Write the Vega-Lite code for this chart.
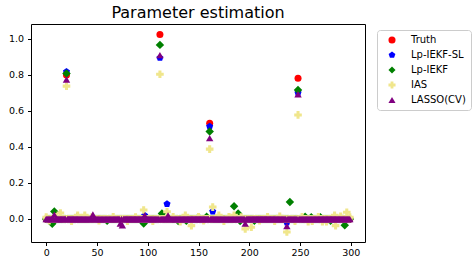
{
"$schema": "https://vega.github.io/schema/vega-lite/v6.json",
"autosize": {"type": "none"},
"width": 334, "height": 218,
"padding": {"left": 31, "top": 24, "right": 109, "bottom": 24},
"background": "white",
"config": {"font": "DejaVu Sans", "view": {"stroke": "#000", "strokeWidth": 1}},
"title": {"text": "Parameter estimation", "fontSize": 16, "fontWeight": "normal", "color": "#000", "anchor": "middle", "baseline": "alphabetic", "offset": 5, "dy": 15, "font": "DejaVu Sans"},
"data": {"values": [
{"i":0,"t":0,"s":0,"k":0,"a":0.01,"l":0},{"i":1,"t":0,"s":0,"k":0,"a":0,"l":0},{"i":2,"t":0,"s":0,"k":0,"a":0,"l":0},{"i":3,"t":0,"s":0,"k":0,"a":-0.01,"l":0},{"i":4,"t":0,"s":0,"k":0,"a":0,"l":0},
{"i":5,"t":0,"s":0,"k":0,"a":0,"l":0},{"i":6,"t":0,"s":0,"k":-0.026,"a":0,"l":0},{"i":7,"t":0,"s":0,"k":0,"a":0,"l":0},{"i":8,"t":0,"s":0,"k":0.042,"a":0,"l":0.024},{"i":9,"t":0,"s":0,"k":0,"a":0,"l":0},
{"i":10,"t":0,"s":0,"k":0,"a":0.012,"l":0},{"i":11,"t":0,"s":0,"k":0,"a":0,"l":0},{"i":12,"t":0,"s":0,"k":0,"a":0,"l":0},{"i":13,"t":0,"s":0,"k":0,"a":0,"l":0},{"i":14,"t":0,"s":0,"k":0,"a":0.033,"l":0},
{"i":15,"t":0,"s":0,"k":0,"a":0,"l":0},{"i":16,"t":0,"s":0,"k":0,"a":0,"l":0},{"i":17,"t":0,"s":0,"k":0,"a":0,"l":0},{"i":18,"t":0,"s":0,"k":0,"a":0,"l":0},{"i":19,"t":0,"s":0,"k":0,"a":0,"l":0},
{"i":20,"t":0.8,"s":0.818,"k":0.808,"a":0.738,"l":0.775},{"i":21,"t":0,"s":0,"k":0,"a":0,"l":0},{"i":22,"t":0,"s":0,"k":0,"a":0,"l":0},{"i":23,"t":0,"s":0,"k":0,"a":0,"l":0},{"i":24,"t":0,"s":0,"k":0,"a":0,"l":0},
{"i":25,"t":0,"s":0,"k":0,"a":-0.012,"l":0},{"i":26,"t":0,"s":0,"k":0,"a":0,"l":0},{"i":27,"t":0,"s":0,"k":0,"a":0,"l":0},{"i":28,"t":0,"s":0,"k":0,"a":0,"l":0},{"i":29,"t":0,"s":0,"k":0,"a":0,"l":0},
{"i":30,"t":0,"s":0,"k":0.008,"a":0,"l":0},{"i":31,"t":0,"s":0,"k":0,"a":0.02,"l":0},{"i":32,"t":0,"s":0,"k":0,"a":0,"l":0},{"i":33,"t":0,"s":0,"k":0,"a":0,"l":0},{"i":34,"t":0,"s":0,"k":0,"a":0,"l":0},
{"i":35,"t":0,"s":0,"k":0,"a":0,"l":0},{"i":36,"t":0,"s":0,"k":0,"a":0,"l":0},{"i":37,"t":0,"s":0,"k":0,"a":0,"l":0},{"i":38,"t":0,"s":0,"k":0,"a":0.02,"l":0},{"i":39,"t":0,"s":0,"k":0,"a":0,"l":0},
{"i":40,"t":0,"s":0,"k":0,"a":0,"l":0},{"i":41,"t":0,"s":0,"k":0,"a":0,"l":0},{"i":42,"t":0,"s":0,"k":0,"a":0,"l":0},{"i":43,"t":0,"s":0,"k":0,"a":0,"l":0},{"i":44,"t":0,"s":0,"k":0,"a":0,"l":0},
{"i":45,"t":0,"s":0,"k":0,"a":0.01,"l":0},{"i":46,"t":0,"s":0,"k":0,"a":0,"l":0.025},{"i":47,"t":0,"s":0,"k":0,"a":0,"l":0},{"i":48,"t":0,"s":0,"k":0,"a":0,"l":0},{"i":49,"t":0,"s":0,"k":0,"a":0,"l":0},
{"i":50,"t":0,"s":0,"k":0,"a":0,"l":0},{"i":51,"t":0,"s":0,"k":0,"a":0,"l":0},{"i":52,"t":0,"s":0,"k":0,"a":-0.01,"l":0},{"i":53,"t":0,"s":0,"k":0,"a":0,"l":0},{"i":54,"t":0,"s":0,"k":0,"a":0,"l":0},
{"i":55,"t":0,"s":0,"k":0,"a":0,"l":0},{"i":56,"t":0,"s":0,"k":0,"a":0,"l":0},{"i":57,"t":0,"s":0,"k":0,"a":0,"l":0},{"i":58,"t":0,"s":0,"k":0,"a":0,"l":0},{"i":59,"t":0,"s":0,"k":0,"a":0,"l":0},
{"i":60,"t":0,"s":0,"k":-0.01,"a":0,"l":0},{"i":61,"t":0,"s":0,"k":0,"a":0,"l":0},{"i":62,"t":0,"s":0,"k":0,"a":0,"l":0},{"i":63,"t":0,"s":0,"k":0,"a":0,"l":0},{"i":64,"t":0,"s":0,"k":0,"a":0,"l":0},
{"i":65,"t":0,"s":0,"k":0,"a":0,"l":0},{"i":66,"t":0,"s":0,"k":0,"a":0.012,"l":0},{"i":67,"t":0,"s":0,"k":0,"a":0,"l":0},{"i":68,"t":0,"s":0,"k":0,"a":0,"l":0},{"i":69,"t":0,"s":0,"k":0,"a":0,"l":0},
{"i":70,"t":0,"s":0,"k":0,"a":0,"l":0},{"i":71,"t":0,"s":0,"k":0,"a":0,"l":0},{"i":72,"t":0,"s":0,"k":0,"a":0,"l":0},{"i":73,"t":0,"s":0,"k":0,"a":0,"l":-0.025},{"i":74,"t":0,"s":0,"k":0,"a":0,"l":0},
{"i":75,"t":0,"s":0,"k":0,"a":0,"l":-0.035},{"i":76,"t":0,"s":0,"k":0,"a":0,"l":0},{"i":77,"t":0,"s":0,"k":0,"a":0,"l":0},{"i":78,"t":0,"s":0,"k":0,"a":0,"l":0},{"i":79,"t":0,"s":0,"k":0,"a":0,"l":0},
{"i":80,"t":0,"s":0,"k":0,"a":-0.012,"l":0},{"i":81,"t":0,"s":0,"k":0,"a":0,"l":0},{"i":82,"t":0,"s":0,"k":0,"a":0,"l":0},{"i":83,"t":0,"s":0,"k":0,"a":0,"l":0},{"i":84,"t":0,"s":0,"k":0,"a":0,"l":0},
{"i":85,"t":0,"s":0,"k":0,"a":0,"l":0},{"i":86,"t":0,"s":0,"k":0,"a":0,"l":0},{"i":87,"t":0,"s":0,"k":0,"a":0,"l":0},{"i":88,"t":0,"s":0,"k":0,"a":0.01,"l":0},{"i":89,"t":0,"s":0,"k":0,"a":0,"l":0},
{"i":90,"t":0,"s":0,"k":0,"a":0,"l":0},{"i":91,"t":0,"s":0,"k":0,"a":0,"l":0},{"i":92,"t":0,"s":0,"k":0,"a":0,"l":0},{"i":93,"t":0,"s":0,"k":0,"a":0,"l":0},{"i":94,"t":0,"s":0,"k":0,"a":0,"l":0},
{"i":95,"t":0,"s":0,"k":0,"a":0,"l":0},{"i":96,"t":0,"s":0,"k":-0.025,"a":0.05,"l":0},{"i":97,"t":0,"s":0.02,"k":0,"a":0,"l":0.02},{"i":98,"t":0,"s":0,"k":0,"a":0,"l":0},{"i":99,"t":0,"s":0,"k":0,"a":0,"l":0},
{"i":100,"t":0,"s":0,"k":0,"a":0,"l":0},{"i":101,"t":0,"s":0,"k":0,"a":0,"l":0},{"i":102,"t":0,"s":0,"k":0,"a":0,"l":0},{"i":103,"t":0,"s":0,"k":0,"a":0,"l":0},{"i":104,"t":0,"s":0,"k":0,"a":0,"l":0},
{"i":105,"t":0,"s":0,"k":0,"a":-0.012,"l":0},{"i":106,"t":0,"s":0,"k":0,"a":0,"l":0},{"i":107,"t":0,"s":0,"k":0,"a":0,"l":0},{"i":108,"t":0,"s":0,"k":0,"a":0,"l":0},{"i":109,"t":0,"s":0,"k":0,"a":0,"l":0},
{"i":110,"t":0,"s":0,"k":0,"a":0,"l":0},{"i":111,"t":0,"s":0,"k":0,"a":0,"l":0},{"i":112,"t":1.025,"s":0.895,"k":0.967,"a":0.804,"l":0.91},{"i":113,"t":0,"s":0,"k":0,"a":0,"l":0},{"i":114,"t":0,"s":0,"k":0.03,"a":0,"l":0},
{"i":115,"t":0,"s":0,"k":0,"a":0,"l":0},{"i":116,"t":0,"s":0,"k":0,"a":0,"l":0},{"i":117,"t":0,"s":0,"k":0,"a":0,"l":0},{"i":118,"t":0,"s":0,"k":0,"a":0,"l":0},{"i":119,"t":0,"s":0.083,"k":0,"a":0.04,"l":0},
{"i":120,"t":0,"s":0,"k":0,"a":0,"l":0.02},{"i":121,"t":0,"s":0,"k":0,"a":0,"l":0},{"i":122,"t":0,"s":0,"k":0,"a":0,"l":0},{"i":123,"t":0,"s":0,"k":0,"a":0,"l":0},{"i":124,"t":0,"s":0,"k":0,"a":0,"l":0},
{"i":125,"t":0,"s":0,"k":0,"a":0.012,"l":0},{"i":126,"t":0,"s":0,"k":0,"a":0,"l":0},{"i":127,"t":0,"s":0,"k":0,"a":0,"l":0},{"i":128,"t":0,"s":0,"k":0,"a":0,"l":0},{"i":129,"t":0,"s":0,"k":0,"a":0,"l":0},
{"i":130,"t":0,"s":0,"k":-0.012,"a":0,"l":0},{"i":131,"t":0,"s":0,"k":0,"a":0,"l":0},{"i":132,"t":0,"s":0,"k":0,"a":-0.015,"l":0},{"i":133,"t":0,"s":0,"k":0,"a":0,"l":0},{"i":134,"t":0,"s":0,"k":0,"a":0,"l":0},
{"i":135,"t":0,"s":0,"k":0,"a":0,"l":0},{"i":136,"t":0,"s":0,"k":0,"a":0,"l":0},{"i":137,"t":0,"s":0,"k":0,"a":0.02,"l":0},{"i":138,"t":0,"s":0,"k":-0.01,"a":0,"l":0},{"i":139,"t":0,"s":0,"k":0,"a":0,"l":0},
{"i":140,"t":0,"s":0,"k":0,"a":0,"l":0},{"i":141,"t":0,"s":0,"k":0,"a":0,"l":0},{"i":142,"t":0,"s":0,"k":0,"a":0,"l":0},{"i":143,"t":0,"s":0,"k":0,"a":-0.037,"l":0},{"i":144,"t":0,"s":0,"k":0,"a":0,"l":0},
{"i":145,"t":0,"s":0,"k":0,"a":0,"l":0},{"i":146,"t":0,"s":0,"k":0,"a":0,"l":0},{"i":147,"t":0,"s":0,"k":0,"a":0,"l":0},{"i":148,"t":0,"s":0,"k":0,"a":0,"l":0},{"i":149,"t":0,"s":0,"k":0,"a":0,"l":0},
{"i":150,"t":0,"s":0,"k":0.01,"a":0.012,"l":0},{"i":151,"t":0,"s":0,"k":0,"a":0,"l":0},{"i":152,"t":0,"s":0,"k":0,"a":0,"l":0},{"i":153,"t":0,"s":0,"k":0,"a":0,"l":0},{"i":154,"t":0,"s":0,"k":0,"a":0,"l":0},
{"i":155,"t":0,"s":0,"k":0,"a":-0.01,"l":0},{"i":156,"t":0,"s":0,"k":0,"a":0,"l":0},{"i":157,"t":0,"s":0,"k":0,"a":0,"l":0},{"i":158,"t":0,"s":0,"k":0.012,"a":0,"l":0},{"i":159,"t":0,"s":0,"k":0,"a":0,"l":0},
{"i":160,"t":0,"s":0,"k":0,"a":0,"l":0},{"i":161,"t":0.532,"s":0.514,"k":0.486,"a":0.388,"l":0.449},{"i":162,"t":0,"s":0,"k":0,"a":0,"l":0},{"i":163,"t":0,"s":0,"k":0,"a":0,"l":0},{"i":164,"t":0,"s":0.042,"k":0,"a":0.066,"l":0},
{"i":165,"t":0,"s":0,"k":0,"a":0,"l":0},{"i":166,"t":0,"s":0,"k":0,"a":0,"l":0},{"i":167,"t":0,"s":0,"k":0,"a":0,"l":0},{"i":168,"t":0,"s":0,"k":0,"a":0,"l":0},{"i":169,"t":0,"s":0,"k":0,"a":0,"l":0},
{"i":170,"t":0,"s":0,"k":0,"a":0.02,"l":0},{"i":171,"t":0,"s":0,"k":0,"a":0,"l":0},{"i":172,"t":0,"s":0,"k":0,"a":0,"l":0},{"i":173,"t":0,"s":0,"k":0,"a":0,"l":0},{"i":174,"t":0,"s":0,"k":0,"a":0,"l":0},
{"i":175,"t":0,"s":0,"k":0,"a":-0.012,"l":0},{"i":176,"t":0,"s":0,"k":0,"a":0,"l":0},{"i":177,"t":0,"s":0,"k":0,"a":0,"l":0},{"i":178,"t":0,"s":0,"k":0,"a":0,"l":0},{"i":179,"t":0,"s":0,"k":0,"a":0,"l":0},
{"i":180,"t":0,"s":0,"k":0,"a":0.012,"l":0},{"i":181,"t":0,"s":0,"k":0,"a":0,"l":0},{"i":182,"t":0,"s":0,"k":0,"a":0,"l":0},{"i":183,"t":0,"s":0,"k":0,"a":0,"l":0},{"i":184,"t":0,"s":0,"k":0,"a":0,"l":0},
{"i":185,"t":0,"s":0,"k":0.07,"a":0.02,"l":0},{"i":186,"t":0,"s":0,"k":0,"a":0,"l":0},{"i":187,"t":0,"s":0,"k":0,"a":0,"l":0},{"i":188,"t":0,"s":0,"k":0.012,"a":0,"l":0},{"i":189,"t":0,"s":0,"k":0.03,"a":0,"l":0},
{"i":190,"t":0,"s":0,"k":0,"a":0,"l":0},{"i":191,"t":0,"s":0,"k":-0.012,"a":0,"l":0},{"i":192,"t":0,"s":0,"k":0,"a":0.01,"l":0},{"i":193,"t":0,"s":0,"k":0,"a":0,"l":0},{"i":194,"t":0,"s":0,"k":0,"a":0,"l":0},
{"i":195,"t":0,"s":0,"k":0,"a":0,"l":0},{"i":196,"t":0,"s":0,"k":0,"a":-0.055,"l":-0.026},{"i":197,"t":0,"s":0,"k":0,"a":0,"l":0},{"i":198,"t":0,"s":0,"k":0,"a":0,"l":0},{"i":199,"t":0,"s":0,"k":0,"a":0,"l":0},
{"i":200,"t":0,"s":0,"k":0,"a":0,"l":0},{"i":201,"t":0,"s":0,"k":0,"a":0,"l":0},{"i":202,"t":0,"s":0,"k":0,"a":-0.046,"l":0},{"i":203,"t":0,"s":0,"k":0,"a":0,"l":0},{"i":204,"t":0,"s":0,"k":0,"a":0,"l":0},
{"i":205,"t":0,"s":0,"k":-0.01,"a":0,"l":0},{"i":206,"t":0,"s":0,"k":0,"a":0,"l":0},{"i":207,"t":0,"s":0,"k":0,"a":0,"l":0},{"i":208,"t":0,"s":0,"k":0,"a":0,"l":0},{"i":209,"t":0,"s":0,"k":0,"a":0,"l":0},
{"i":210,"t":0,"s":0,"k":0,"a":-0.01,"l":0},{"i":211,"t":0,"s":0,"k":0,"a":0,"l":0},{"i":212,"t":0,"s":0,"k":0,"a":0,"l":0},{"i":213,"t":0,"s":0,"k":0,"a":0,"l":0},{"i":214,"t":0,"s":0,"k":0,"a":0,"l":0},
{"i":215,"t":0,"s":0,"k":0,"a":0,"l":0},{"i":216,"t":0,"s":0,"k":0,"a":0,"l":0},{"i":217,"t":0,"s":0,"k":0,"a":0,"l":0},{"i":218,"t":0,"s":0,"k":0,"a":0.012,"l":0},{"i":219,"t":0,"s":0,"k":0,"a":0,"l":0},
{"i":220,"t":0,"s":0,"k":0,"a":0,"l":0},{"i":221,"t":0,"s":0,"k":0,"a":0,"l":0},{"i":222,"t":0,"s":0,"k":0,"a":0,"l":0},{"i":223,"t":0,"s":0,"k":0,"a":0,"l":0},{"i":224,"t":0,"s":0,"k":0,"a":0,"l":0},
{"i":225,"t":0,"s":0,"k":0,"a":-0.012,"l":0},{"i":226,"t":0,"s":0,"k":0,"a":0,"l":0},{"i":227,"t":0,"s":0,"k":0,"a":0,"l":0},{"i":228,"t":0,"s":0,"k":0,"a":0,"l":0},{"i":229,"t":0,"s":0,"k":0,"a":0,"l":0},
{"i":230,"t":0,"s":0,"k":0,"a":0.015,"l":0},{"i":231,"t":0,"s":0,"k":0,"a":0,"l":0},{"i":232,"t":0,"s":0,"k":0,"a":0,"l":0},{"i":233,"t":0,"s":0,"k":0,"a":0,"l":0},{"i":234,"t":0,"s":0,"k":0,"a":0,"l":0},
{"i":235,"t":0,"s":0,"k":0,"a":0,"l":0},{"i":236,"t":0,"s":0,"k":0,"a":0,"l":0},{"i":237,"t":0,"s":-0.02,"k":0,"a":-0.072,"l":-0.04},{"i":238,"t":0,"s":0,"k":0,"a":0,"l":0},{"i":239,"t":0,"s":0,"k":0,"a":0,"l":0},
{"i":240,"t":0,"s":0,"k":0.094,"a":0,"l":0},{"i":241,"t":0,"s":0,"k":0,"a":0,"l":0},{"i":242,"t":0,"s":0,"k":0,"a":0,"l":0},{"i":243,"t":0,"s":0,"k":0,"a":0,"l":0},{"i":244,"t":0,"s":0,"k":0,"a":0,"l":0},
{"i":245,"t":0,"s":0,"k":0,"a":-0.012,"l":0},{"i":246,"t":0,"s":0,"k":0,"a":0,"l":0},{"i":247,"t":0,"s":0,"k":0,"a":0,"l":0},{"i":248,"t":0.782,"s":0.7,"k":0.717,"a":0.578,"l":0.693},{"i":249,"t":0,"s":0,"k":0,"a":0,"l":0},
{"i":250,"t":0,"s":0,"k":0,"a":0,"l":0},{"i":251,"t":0,"s":0,"k":0,"a":0,"l":0},{"i":252,"t":0,"s":0,"k":0,"a":0.012,"l":0},{"i":253,"t":0,"s":0,"k":0,"a":0,"l":0},{"i":254,"t":0,"s":0,"k":0,"a":0,"l":0},
{"i":255,"t":0,"s":0,"k":0.012,"a":0,"l":0},{"i":256,"t":0,"s":0,"k":0,"a":0,"l":0},{"i":257,"t":0,"s":0,"k":0,"a":0,"l":0},{"i":258,"t":0,"s":0,"k":0,"a":-0.015,"l":0},{"i":259,"t":0,"s":0,"k":0,"a":0,"l":0},
{"i":260,"t":0,"s":0,"k":0,"a":0,"l":0},{"i":261,"t":0,"s":0,"k":0.01,"a":0,"l":0},{"i":262,"t":0,"s":0,"k":0,"a":-0.012,"l":0},{"i":263,"t":0,"s":0,"k":0,"a":0,"l":0},{"i":264,"t":0,"s":0,"k":0,"a":0,"l":0},
{"i":265,"t":0,"s":0,"k":0,"a":0,"l":0},{"i":266,"t":0,"s":0,"k":0,"a":0,"l":0},{"i":267,"t":0,"s":0,"k":0,"a":0,"l":0},{"i":268,"t":0,"s":0,"k":0,"a":0.012,"l":0},{"i":269,"t":0,"s":0,"k":0,"a":0,"l":0},
{"i":270,"t":0,"s":0,"k":0.01,"a":0,"l":0},{"i":271,"t":0,"s":0,"k":0,"a":0,"l":0},{"i":272,"t":0,"s":0,"k":0,"a":-0.015,"l":0},{"i":273,"t":0,"s":0,"k":0,"a":0,"l":0},{"i":274,"t":0,"s":0,"k":0,"a":0,"l":0},
{"i":275,"t":0,"s":0,"k":0,"a":0,"l":0},{"i":276,"t":0,"s":0,"k":0,"a":-0.015,"l":0},{"i":277,"t":0,"s":0,"k":0,"a":0,"l":0},{"i":278,"t":0,"s":0,"k":0,"a":0,"l":0},{"i":279,"t":0,"s":0,"k":0,"a":0,"l":0},
{"i":280,"t":0,"s":0,"k":-0.01,"a":0,"l":0},{"i":281,"t":0,"s":0,"k":0,"a":0,"l":0},{"i":282,"t":0,"s":0,"k":0,"a":0,"l":0},{"i":283,"t":0,"s":0,"k":0,"a":0,"l":0},{"i":284,"t":0,"s":0,"k":0,"a":0.02,"l":0},
{"i":285,"t":0,"s":0,"k":0,"a":-0.037,"l":0},{"i":286,"t":0,"s":0,"k":0,"a":0,"l":0},{"i":287,"t":0,"s":0,"k":0,"a":0,"l":0},{"i":288,"t":0,"s":0,"k":0,"a":0,"l":0},{"i":289,"t":0,"s":0,"k":0,"a":0,"l":0},
{"i":290,"t":0,"s":0,"k":0,"a":0.015,"l":0},{"i":291,"t":0,"s":0,"k":0,"a":0,"l":0},{"i":292,"t":0,"s":0,"k":0,"a":0,"l":0},{"i":293,"t":0,"s":0,"k":0,"a":0,"l":0},{"i":294,"t":0,"s":0,"k":-0.035,"a":0,"l":0},
{"i":295,"t":0,"s":0,"k":0,"a":0,"l":0},{"i":296,"t":0,"s":0,"k":0,"a":0.037,"l":0},{"i":297,"t":0,"s":0,"k":0,"a":0,"l":0},{"i":298,"t":0,"s":0,"k":0,"a":0,"l":0},{"i":299,"t":0,"s":0,"k":0,"a":0.01,"l":0}
]},
"encoding": {
  "x": {"field": "i", "type": "quantitative",
        "scale": {"domain": [-14.95, 313.95], "nice": false, "zero": false},
        "axis": {"title": null, "values": [0, 50, 100, 150, 200, 250, 300], "domain": false, "grid": false, "tickSize": 3.5, "tickColor": "#000", "labelColor": "#000", "labelFontSize": 9.5, "labelPadding": 2, "labelFont": "DejaVu Sans"}}
},
"layer": [
  {"mark": {"type": "point", "filled": true, "opacity": 1, "size": 49},
   "encoding": {
     "y": {"field": "t", "type": "quantitative",
           "scale": {"domain": [-0.128, 1.083], "nice": false, "zero": false},
           "axis": {"title": null, "values": [0, 0.2, 0.4, 0.6, 0.8, 1.0], "format": ".1f", "domain": false, "grid": false, "tickSize": 3.5, "tickColor": "#000", "labelColor": "#000", "labelFontSize": 9.5, "labelPadding": 4, "labelFont": "DejaVu Sans"}},
     "color": {"datum": "Truth",
               "scale": {"domain": ["Truth", "Lp-IEKF-SL", "Lp-IEKF", "IAS", "LASSO(CV)"], "range": ["#ff0000", "#0000ff", "#008000", "#f0e68c", "#800080"]},
               "legend": {"title": null, "orient": "none", "legendX": 346, "legendY": 6, "padding": 5, "symbolOffset": 5, "labelOffset": 14, "rowPadding": 5, "labelFontSize": 10, "labelFont": "DejaVu Sans", "labelColor": "#000", "symbolSize": 50, "strokeColor": "#cccccc", "cornerRadius": 3, "fillColor": "white"}},
     "shape": {"datum": "Truth",
               "scale": {"domain": ["Truth", "Lp-IEKF-SL", "Lp-IEKF", "IAS", "LASSO(CV)"], "range": ["circle", "M0,-1L0.951,-0.309L0.588,0.809L-0.588,0.809L-0.951,-0.309Z", "diamond", "cross", "triangle-up"]},
               "legend": {"title": null}}
   }},
  {"mark": {"type": "point", "filled": true, "opacity": 1, "size": 55},
   "encoding": {"y": {"field": "s", "type": "quantitative"}, "color": {"datum": "Lp-IEKF-SL"}, "shape": {"datum": "Lp-IEKF-SL"}}},
  {"mark": {"type": "point", "filled": true, "opacity": 1, "size": 72},
   "encoding": {"y": {"field": "k", "type": "quantitative"}, "color": {"datum": "Lp-IEKF"}, "shape": {"datum": "Lp-IEKF"}}},
  {"mark": {"type": "point", "filled": true, "opacity": 1, "size": 58},
   "encoding": {"y": {"field": "a", "type": "quantitative"}, "color": {"datum": "IAS"}, "shape": {"datum": "IAS"}}},
  {"mark": {"type": "point", "filled": true, "opacity": 1, "size": 55},
   "encoding": {"y": {"field": "l", "type": "quantitative"}, "color": {"datum": "LASSO(CV)"}, "shape": {"datum": "LASSO(CV)"}}}
]
}
